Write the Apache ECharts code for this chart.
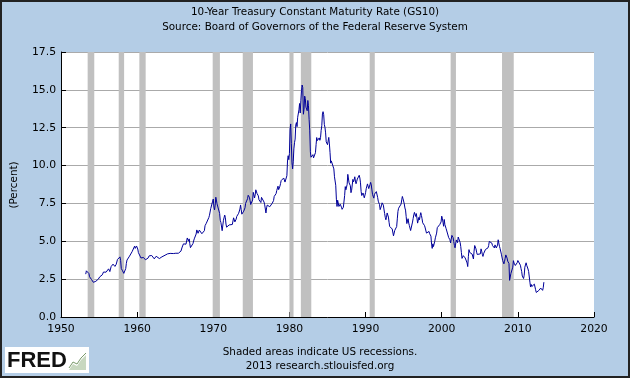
<!DOCTYPE html>
<html><head><meta charset="utf-8">
<script src="https://cdn.jsdelivr.net/npm/echarts@6/dist/echarts.min.js"></script>
<style>html,body{margin:0;padding:0;background:#B4CDE6;}#c{width:630px;height:378px;}</style>
</head><body><div id="c"></div>
<script>
// Monthly 10-year treasury rate, starting April 1953
const startYear = 1953, startMonth = 4;
const gs10 = [
/*1953*/ 2.83,3.05,3.11,2.93,2.95,2.87,2.66,2.68,2.59,
/*1954*/ 2.48,2.47,2.37,2.29,2.37,2.38,2.30,2.36,2.38,2.43,2.48,2.51,
/*1955*/ 2.61,2.65,2.68,2.75,2.76,2.78,2.90,2.97,2.97,2.88,2.89,2.96,
/*1956*/ 2.90,2.84,2.96,3.18,3.07,3.00,3.11,3.33,3.38,3.34,3.49,3.59,
/*1957*/ 3.46,3.34,3.41,3.48,3.60,3.80,3.93,3.93,3.92,3.97,3.72,3.21,
/*1958*/ 3.09,3.05,2.98,2.88,2.92,2.97,3.20,3.54,3.76,3.80,3.74,3.86,
/*1959*/ 4.02,3.96,3.99,4.12,4.31,4.34,4.40,4.43,4.68,4.53,4.53,4.69,
/*1960*/ 4.72,4.49,4.25,4.28,4.35,4.15,3.90,3.80,3.80,3.89,3.93,3.84,
/*1961*/ 3.84,3.78,3.74,3.78,3.71,3.88,3.92,4.04,3.98,3.92,3.94,4.06,
/*1962*/ 4.08,4.04,3.93,3.84,3.87,3.91,4.01,3.98,3.98,3.93,3.92,3.86,
/*1963*/ 3.83,3.92,3.93,3.97,3.93,3.99,4.02,4.00,4.08,4.11,4.12,4.13,
/*1964*/ 4.17,4.15,4.22,4.23,4.20,4.17,4.19,4.19,4.20,4.19,4.15,4.18,
/*1965*/ 4.19,4.21,4.21,4.20,4.21,4.21,4.20,4.25,4.29,4.35,4.45,4.62,
/*1966*/ 4.61,4.83,4.87,4.75,4.78,4.81,5.02,5.22,5.18,5.01,5.16,4.84,
/*1967*/ 4.58,4.63,4.54,4.59,4.85,5.02,5.16,5.28,5.30,5.48,5.75,5.70,
/*1968*/ 5.53,5.56,5.74,5.64,5.87,5.72,5.50,5.42,5.46,5.58,5.70,6.03,
/*1969*/ 6.04,6.19,6.30,6.17,6.32,6.57,6.72,6.69,7.16,7.10,7.14,7.65,
/*1970*/ 7.79,7.24,7.07,7.39,7.91,7.84,7.46,7.53,7.39,7.33,6.84,6.39,
/*1971*/ 6.24,6.11,5.70,5.83,6.39,6.52,6.73,6.58,6.14,5.93,5.81,5.93,
/*1972*/ 5.95,6.08,6.07,6.19,6.13,6.11,6.11,6.21,6.55,6.48,6.28,6.36,
/*1973*/ 6.46,6.64,6.71,6.67,6.85,6.90,7.13,7.40,7.09,6.79,6.73,6.74,
/*1974*/ 6.99,6.96,7.21,7.51,7.58,7.54,7.81,8.04,8.04,7.90,7.68,7.43,
/*1975*/ 7.50,7.39,7.73,8.23,8.06,7.86,8.06,8.40,8.43,8.15,8.05,8.00,
/*1976*/ 7.74,7.79,7.73,7.56,7.90,7.86,7.83,7.77,7.59,7.41,7.29,6.87,
/*1977*/ 7.21,7.39,7.46,7.37,7.46,7.28,7.33,7.40,7.34,7.52,7.58,7.69,
/*1978*/ 7.96,8.03,8.04,8.15,8.35,8.46,8.64,8.41,8.42,8.64,8.81,9.01,
/*1979*/ 9.10,9.10,9.12,9.18,9.25,8.91,8.95,9.03,9.33,10.30,10.65,10.39,
/*1980*/ 10.80,12.41,12.75,11.47,10.18,9.78,10.25,11.10,11.51,11.75,12.68,12.84,
/*1981*/ 12.57,13.19,13.12,13.68,14.10,13.47,14.28,14.94,15.32,15.15,13.39,13.72,
/*1982*/ 14.59,14.43,13.86,13.87,13.62,14.30,13.95,13.06,12.34,10.91,10.55,10.54,
/*1983*/ 10.46,10.72,10.51,10.40,10.38,10.85,11.38,11.85,11.65,11.54,11.69,11.83,
/*1984*/ 11.67,11.84,12.32,12.63,13.41,13.56,13.36,12.72,12.52,12.16,11.57,11.50,
/*1985*/ 11.38,11.51,11.86,11.43,10.85,10.16,10.31,10.33,10.37,10.24,9.78,9.26,
/*1986*/ 9.19,8.70,7.78,7.30,7.71,7.80,7.30,7.17,7.45,7.43,7.25,7.11,
/*1987*/ 7.08,7.25,7.25,8.02,8.61,8.40,8.45,8.76,9.42,9.52,8.86,8.99,
/*1988*/ 8.67,8.21,8.37,8.72,9.09,8.92,9.06,9.26,8.98,8.80,8.96,9.11,
/*1989*/ 9.09,9.17,9.36,9.18,8.86,8.28,8.02,8.11,8.19,8.01,7.87,7.84,
/*1990*/ 8.21,8.47,8.59,8.79,8.76,8.48,8.47,8.75,8.89,8.72,8.39,8.08,
/*1991*/ 8.09,7.85,8.11,8.04,8.07,8.28,8.27,7.90,7.65,7.53,7.42,7.09,
/*1992*/ 7.03,7.34,7.54,7.48,7.39,7.26,6.84,6.59,6.42,6.59,6.87,6.77,
/*1993*/ 6.60,6.26,5.98,5.97,6.04,5.96,5.81,5.68,5.36,5.33,5.72,5.77,
/*1994*/ 5.75,5.97,6.48,6.97,7.18,7.10,7.30,7.24,7.46,7.74,7.96,7.81,
/*1995*/ 7.78,7.47,7.20,7.06,6.63,6.17,6.28,6.49,6.20,6.04,5.93,5.71,
/*1996*/ 5.65,5.81,6.27,6.51,6.74,6.91,6.87,6.64,6.83,6.53,6.20,6.30,
/*1997*/ 6.58,6.42,6.69,6.89,6.71,6.49,6.22,6.30,6.21,6.03,5.88,5.81,
/*1998*/ 5.54,5.57,5.65,5.64,5.65,5.50,5.46,5.34,4.81,4.53,4.83,4.65,
/*1999*/ 4.72,5.00,5.23,5.18,5.54,5.90,5.79,5.94,5.92,6.11,6.03,6.28,
/*2000*/ 6.66,6.52,6.26,5.99,6.44,6.10,6.05,5.83,5.80,5.74,5.72,5.24,
/*2001*/ 5.16,5.10,4.89,5.14,5.39,5.28,5.24,4.97,4.73,4.57,4.65,5.09,
/*2002*/ 5.04,4.91,5.28,5.21,5.16,4.93,4.65,4.26,3.87,3.94,4.05,4.03,
/*2003*/ 4.05,3.90,3.81,3.96,3.57,3.33,3.98,4.45,4.27,4.29,4.30,4.27,
/*2004*/ 4.15,4.08,3.83,4.35,4.72,4.73,4.50,4.28,4.13,4.10,4.19,4.23,
/*2005*/ 4.22,4.17,4.50,4.34,4.14,4.00,4.18,4.26,4.20,4.46,4.54,4.47,
/*2006*/ 4.42,4.57,4.72,4.99,5.11,5.11,5.09,4.88,4.72,4.73,4.60,4.56,
/*2007*/ 4.76,4.72,4.56,4.69,4.75,5.10,5.00,4.67,4.52,4.53,4.15,4.10,
/*2008*/ 3.74,3.74,3.51,3.68,3.88,4.10,4.01,3.89,3.69,3.81,3.53,2.42,
/*2009*/ 2.52,2.87,2.82,2.93,3.29,3.72,3.56,3.59,3.40,3.39,3.40,3.59,
/*2010*/ 3.73,3.69,3.73,3.85,3.42,3.20,3.01,2.70,2.65,2.54,2.76,3.29,
/*2011*/ 3.39,3.58,3.41,3.46,3.17,3.00,3.00,2.30,1.98,2.15,2.01,1.98,
/*2012*/ 1.97,1.97,2.17,2.05,1.80,1.62,1.53,1.68,1.72,1.75,1.65,1.72,
/*2013*/ 1.91,1.98,1.96,1.76,1.93,2.30
];
// Recession periods [start, end] in decimal years
const recessions = [
  [1953.50,1954.37],[1957.58,1958.29],[1960.29,1961.12],[1969.92,1970.87],
  [1973.87,1975.21],[1980.00,1980.54],[1981.50,1982.87],[1990.54,1991.21],
  [2001.17,2001.87],[2007.92,2009.46]
];
const xTicks = [1950,1960,1970,1980,1990,2000,2010,2020];
const yTicks = [0,2.5,5,7.5,10,12.5,15,17.5];

const lineData = gs10.map((v,i)=>{
  const m = startMonth - 1 + i;
  return [startYear + Math.floor(m/12) + (m%12)/12, v];
});

const FONT = 'DejaVu Sans';
const FS = 10.4;
const chart = echarts.init(document.getElementById('c'), null, {renderer:'canvas'});
chart.setOption({
  animation:false,
  backgroundColor:'#B4CDE6',
  grid:{left:61,right:36,top:52,bottom:61,show:true,backgroundColor:'#FFFFFF',borderWidth:0},
  xAxis:{type:'value',min:xTicks[0],max:xTicks[xTicks.length-1],interval:10,
    axisLine:{show:true,onZero:false,lineStyle:{color:'#000',width:1}},
    axisTick:{show:true,inside:true,length:5,lineStyle:{color:'#000'}},
    splitLine:{show:false},
    axisLabel:{color:'#000',fontFamily:FONT,fontSize:FS+0.4,margin:7,formatter:v=>String(v)}},
  yAxis:{type:'value',min:yTicks[0],max:yTicks[yTicks.length-1],interval:2.5,
    axisLine:{show:true,lineStyle:{color:'#000',width:1}},
    axisTick:{show:true,inside:true,length:5,lineStyle:{color:'#000'}},
    splitLine:{show:true,lineStyle:{color:'#AAAAAA',width:1}},
    axisLabel:{color:'#000',fontFamily:FONT,fontSize:FS+0.4,margin:5,formatter:v=>v.toFixed(1)}},
  series:[
    {type:'line',data:[],z:1,silent:true,
     markArea:{silent:true,itemStyle:{color:'#C0C0C0',opacity:1},
       data:recessions.map(r=>[{xAxis:r[0]},{xAxis:r[1]}])}},
    {type:'line',data:lineData,z:3,showSymbol:false,symbol:'none',
     lineStyle:{color:'#000099',width:1},silent:true}
  ],
  graphic:[
    {type:'text',x:315,y:12,style:{text:'10-Year Treasury Constant Maturity Rate (GS10)',font:FS+'px '+FONT,fill:'#000',align:'center',verticalAlign:'middle'}},
    {type:'text',x:315,y:27,style:{text:'Source: Board of Governors of the Federal Reserve System',font:FS+'px '+FONT,fill:'#000',align:'center',verticalAlign:'middle'}},
    {type:'text',x:14,y:185,rotation:Math.PI/2,style:{text:'(Percent)',font:FS+'px '+FONT,fill:'#000',align:'center',verticalAlign:'middle'}},
    {type:'text',x:320,y:352,style:{text:'Shaded areas indicate US recessions.',font:FS+'px '+FONT,fill:'#000',align:'center',verticalAlign:'middle'}},
    {type:'text',x:320,y:366,style:{text:'2013 research.stlouisfed.org',font:FS+'px '+FONT,fill:'#000',align:'center',verticalAlign:'middle'}},
    {type:'rect',shape:{x:5,y:347,width:84,height:26},style:{fill:'#FFFFFF'}},
    {type:'text',x:7,y:361,style:{text:'FRED',font:'900 22px "Liberation Sans"',fill:'#111',verticalAlign:'middle'}},
    {type:'polygon',shape:{points:[[69,370],[73,364],[77,366],[81,360],[86,355],[86,370]]},style:{fill:'#C8D8C0'}},
    {type:'polyline',shape:{points:[[69,368],[73,362],[77,364],[81,358],[86,353]]},style:{stroke:'#7A9A6A',lineWidth:1,fill:null}},
    {type:'rect',shape:{x:1,y:1,width:628,height:376},style:{fill:null,stroke:'#222',lineWidth:2}}
  ]
});
</script></body></html>
